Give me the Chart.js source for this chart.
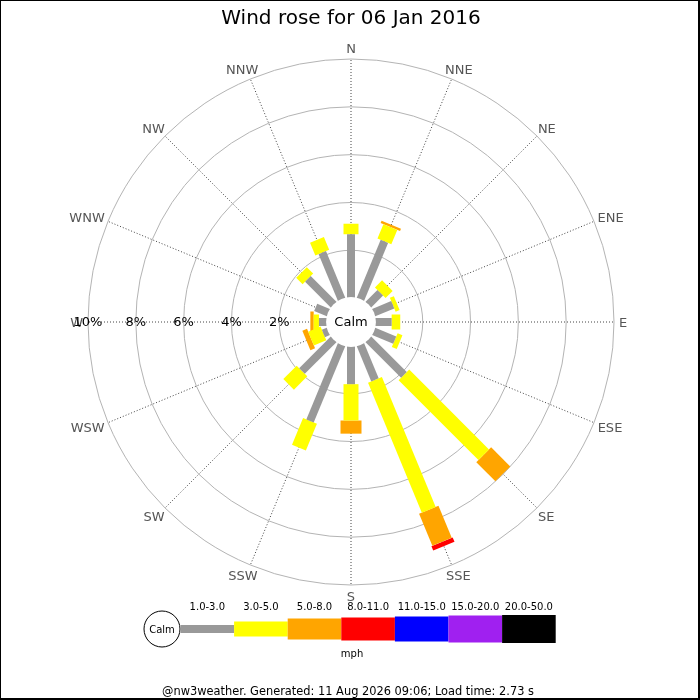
<!DOCTYPE html>
<html>
<head>
<meta charset="utf-8">
<title>Wind rose</title>
<script src="https://cdn.jsdelivr.net/npm/chart.js@4.4.1/dist/chart.umd.min.js"></script>
<style>
  html, body { margin: 0; padding: 0; background: #fff; }
  canvas { display: block; }
</style>
</head>
<body>
<canvas id="rose" width="700" height="700"></canvas>
<script>
// compass points, clockwise from north
const directions = ['N', 'NNE', 'NE', 'ENE', 'E', 'ESE', 'SE', 'SSE',
                    'S', 'SSW', 'SW', 'WSW', 'W', 'WNW', 'NW', 'NNW'];
const speedBands = ['1.0-3.0', '3.0-5.0', '5.0-8.0', '8.0-11.0', '11.0-15.0', '15.0-20.0', '20.0-50.0'];
const ringValues = [2, 4, 6, 8, 10];
const ringLabels = ['2%', '4%', '6%', '8%', '10%'];

// % of the day per direction in each speed band (mph)
const band1to3   = [2.67, 2.65, 0.73, 0.89, 0.70, 0.98, 2.13, 1.62, 1.60, 3.48, 1.90, 0.25, 0.34, 0.60, 1.55, 2.14];
const band3to5   = [0.44, 0.65, 0.42, 0.18, 0.36, 0.22, 4.72, 5.88, 1.52, 1.21, 0.79, 0.56, 0.22, 0.00, 0.38, 0.58];
const band5to8   = [0.00, 0.10, 0.00, 0.00, 0.00, 0.00, 1.13, 1.45, 0.55, 0.00, 0.00, 0.21, 0.14, 0.00, 0.00, 0.00];
const band8to11  = [0.00, 0.00, 0.00, 0.00, 0.00, 0.00, 0.00, 0.20, 0.00, 0.00, 0.00, 0.00, 0.00, 0.00, 0.00, 0.00];
const band11to15 = [0, 0, 0, 0, 0, 0, 0, 0, 0, 0, 0, 0, 0, 0, 0, 0];
const band15to20 = [0, 0, 0, 0, 0, 0, 0, 0, 0, 0, 0, 0, 0, 0, 0, 0];
const band20to50 = [0, 0, 0, 0, 0, 0, 0, 0, 0, 0, 0, 0, 0, 0, 0, 0];

const bandValues = [band1to3, band3to5, band5to8, band8to11, band11to15, band15to20, band20to50];
const bandColours = ['#999999', '#ffff00', '#ffa500', '#ff0000', '#0000ff', '#a020f0', '#000000'];
const bandThickness = [8, 15, 21, 23, 25, 27, 28];
const FONT = 'DejaVu Sans';

// stack the bands: where each one starts and ends along its spoke
const starts = [];
const ends = [];
let running = directions.map(() => 0);
bandValues.forEach((vals, b) => {
    starts[b] = running.slice();
    running = running.map((r, i) => r + vals[i]);
    ends[b] = running.slice();
});

// each segment is a radar point drawn as a thick radial line
const datasets = bandValues.map((vals, b) => ({
    label: speedBands[b],
    data: vals.map((v, i) => v > 0 ? (starts[b][i] + ends[b][i]) / 2 : null),
    showLine: false,
    fill: false,
    backgroundColor: 'rgba(0,0,0,0)',
    borderColor: 'rgba(0,0,0,0)',
    pointStyle: 'line',
    pointBorderColor: bandColours[b],
    pointBackgroundColor: bandColours[b],
    pointBorderWidth: bandThickness[b],
    pointRotation: function (ctx) {
        return (ctx.dataIndex || 0) * 360 / directions.length - 90;
    },
    pointRadius: function (ctx) {
        const r = ctx.chart.scales.r;
        const i = ctx.dataIndex;
        if (!r || i === undefined) return 0;
        return (r.getDistanceFromCenterForValue(ends[b][i]) - r.getDistanceFromCenterForValue(starts[b][i])) / 2;
    }
}));

const roseExtras = {
    id: 'roseExtras',
    beforeDraw(chart) {
        const ctx = chart.ctx;
        ctx.save();
        ctx.fillStyle = '#fff';
        ctx.fillRect(0, 0, chart.width, chart.height);
        ctx.restore();
    },
    afterDraw(chart) {
        const ctx = chart.ctx;
        const r = chart.scales.r;
        ctx.save();
        ctx.textAlign = 'center';
        ctx.textBaseline = 'middle';

        // compass labels, just outside the outer ring
        ctx.font = '13px "' + FONT + '"';
        ctx.fillStyle = '#555';
        directions.forEach((d, i) => {
            const a = i * 2 * Math.PI / directions.length;
            const p = r.getPointPosition(i, r.drawingArea + 5);
            const w = ctx.measureText(d).width;
            ctx.fillText(d, p.x + Math.sin(a) * w / 2, p.y - Math.cos(a) * 6 + 1.5);
        });

        // ring labels along the west spoke
        const west = directions.indexOf('W');
        ctx.fillStyle = '#000';
        ringValues.forEach((v, k) => {
            const p = r.getPointPositionForValue(west, v);
            ctx.fillText(ringLabels[k], p.x, p.y + 1);
        });

        // calm disc in the middle
        ctx.beginPath();
        ctx.arc(r.xCenter, r.yCenter, r.getDistanceFromCenterForValue(0) + 1, 0, Math.PI * 2);
        ctx.fillStyle = '#fff';
        ctx.fill();
        ctx.fillStyle = '#000';
        ctx.fillText('Calm', r.xCenter, r.yCenter + 1);

        // speed legend
        const cy = 629;
        const calmX = 162, calmR = 18;
        ctx.beginPath();
        ctx.arc(calmX, cy, calmR, 0, Math.PI * 2);
        ctx.fillStyle = '#fff';
        ctx.fill();
        ctx.lineWidth = 1;
        ctx.strokeStyle = '#000';
        ctx.stroke();
        ctx.fillStyle = '#000';
        ctx.font = '10px "' + FONT + '"';
        ctx.fillText('Calm', calmX, cy + 1);

        const x0 = calmX + calmR + 0.5;
        const w = 53.6;
        speedBands.forEach((label, b) => {
            const x = x0 + b * w;
            const h = bandThickness[b];
            ctx.fillStyle = bandColours[b];
            ctx.fillRect(x, cy - h / 2, w, h);
            ctx.fillStyle = '#000';
            ctx.fillText(label, x + w / 2, 607);
        });
        ctx.fillText('mph', 352, 654);

        ctx.font = '11.4px "' + FONT + '"';
        ctx.fillText('@nw3weather. Generated: 11 Aug 2026 09:06; Load time: 2.73 s', 348, 692);

        // frame
        ctx.lineWidth = 2;
        ctx.strokeStyle = '#000';
        ctx.strokeRect(0, 0, 699, 699);
        ctx.restore();
    }
};

new Chart(document.getElementById('rose'), {
    type: 'radar',
    data: {
        labels: directions,
        datasets: datasets
    },
    options: {
        responsive: false,
        animation: false,
        events: [],
        layout: {
            padding: { left: 2, right: 0, top: 0, bottom: 114.5 }
        },
        plugins: {
            legend: { display: false },
            tooltip: { enabled: false },
            title: {
                display: true,
                text: 'Wind rose for 06 Jan 2016',
                color: '#000',
                font: { family: FONT, size: 20, weight: 'normal' },
                padding: { top: 7, bottom: 28 }
            }
        },
        scales: {
            r: {
                min: -1,
                max: 10,
                afterBuildTicks: function (axis) {
                    axis.ticks = ringValues.map(v => ({ value: v }));
                },
                ticks: { display: false },
                grid: { circular: true, color: '#b4b4b4', lineWidth: 1 },
                angleLines: { color: '#444', lineWidth: 1, borderDash: [1, 2] },
                pointLabels: { display: false }
            }
        }
    },
    plugins: [roseExtras]
});
</script>
</body>
</html>
